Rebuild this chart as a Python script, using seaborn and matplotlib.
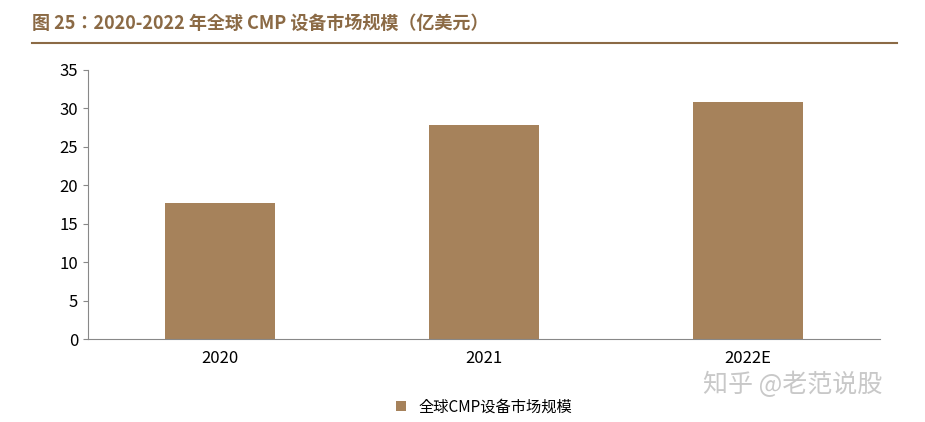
import matplotlib
matplotlib.use("Agg")
import matplotlib.pyplot as plt
import seaborn as sns
import pandas as pd

years = ["2020", "2021", "2022E"]
market_size = [17.7, 27.8, 30.8]
series_name = "全球CMP设备市场规模"
title = "图 25：2020-2022 年全球 CMP 设备市场规模（亿美元）"

plt.rcParams["font.family"] = ["Noto Sans CJK SC", "Noto Sans CJK JP", "Noto Sans CJK TC",
                               "Noto Sans CJK KR", "DejaVu Sans"]
bar_color = "#A6825B"

df = pd.DataFrame({"year": years, "value": market_size})

fig = plt.figure(figsize=(9.25, 4.22), dpi=100)
ax = fig.add_axes([88 / 925, 1 - 339 / 422, (880 - 88) / 925, (339 - 70) / 422])
sns.barplot(data=df, x="year", y="value", color=bar_color, width=0.42,
            saturation=1, ax=ax, label=series_name)

ax.set_ylim(0, 35)
ax.set_yticks(range(0, 36, 5))
ax.set_xlabel("")
ax.set_ylabel("")
for s in ["top", "right"]:
    ax.spines[s].set_visible(False)
ax.spines["left"].set_color("#888888")
ax.spines["bottom"].set_color("#888888")
ax.tick_params(axis="both", labelsize=12, color="#888888")
ax.tick_params(axis="x", length=0, pad=8)

ax.legend(loc="upper center", bbox_to_anchor=(0.5, -0.17), frameon=False,
          fontsize=11, handlelength=0.7, handleheight=0.7)

fig.text(0.035, 0.945, title, fontsize=13, fontweight="bold", color="#8B6A45", va="center")
fig.add_artist(plt.Line2D([0.035, 0.97], [1 - 43 / 422] * 2, color="#8B6A45", lw=1.5))
fig.text(0.76, 0.07, "知乎 @老范说股", fontsize=18, color="#bbbbbb", alpha=0.8)

fig.savefig("out.png", dpi=100)
